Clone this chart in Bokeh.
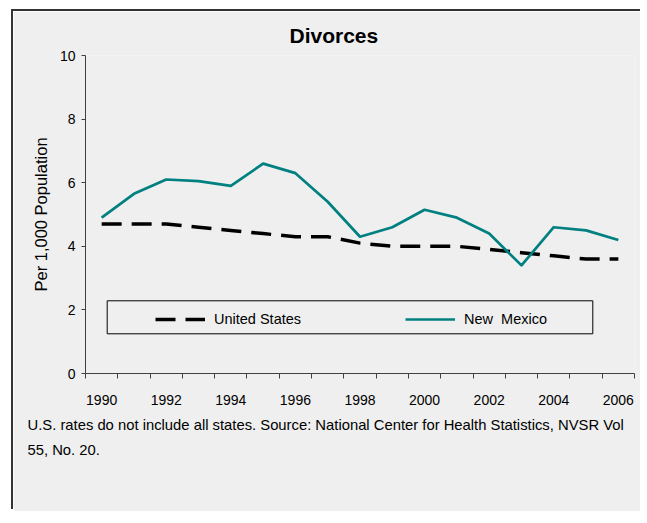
from bokeh.plotting import figure
from bokeh.models import Range1d, FixedTicker, Legend, LegendItem, BoxAnnotation, Title, ColumnDataSource
from bokeh.embed import file_html
from bokeh.resources import INLINE

# ---- data ----
years = [1990, 1991, 1992, 1993, 1994, 1995, 1996, 1997, 1998,
         1999, 2000, 2001, 2002, 2003, 2004, 2005, 2006]
us_rate = [4.7, 4.7, 4.7, 4.6, 4.5, 4.4, 4.3, 4.3, 4.1,
           4.0, 4.0, 4.0, 3.9, 3.8, 3.7, 3.6, 3.6]
nm_rate = [4.9, 5.65, 6.1, 6.05, 5.9, 6.6, 6.3, 5.4, 4.3,
           4.6, 5.15, 4.9, 4.4, 3.4, 4.6, 4.5, 4.2]
year_labels = [1990, 1992, 1994, 1996, 1998, 2000, 2002, 2004, 2006]
y_ticks = [0, 2, 4, 6, 8, 10]
series_names = ["United States", "New  Mexico"]
title_text = "Divorces"
y_title = "Per 1,000 Population"
note_lines = ["U.S. rates do not include all states.  Source: National Center for Health Statistics, NVSR Vol",
              "55, No. 20."]

SANS = "Liberation Sans"
BG = "#efefef"
AX = "#404040"

src = ColumnDataSource(dict(year=years, us=us_rate, nm=nm_rate))

W, H = 632, 500                   # canvas (placed 13px / 11px in from the page corner)
FL, FT, FR = 72, 44, 621          # frame left / top / right inside the canvas
FB = FT + 318                     # frame bottom
p = figure(width=W, height=H, output_backend="svg", toolbar_location=None,
           x_range=Range1d(years[0] - 0.5, years[-1] + 0.5), y_range=Range1d(0, 10),
           min_border_left=FL, min_border_right=W - FR, min_border_top=FT,
           min_border_bottom=H - FB,
           border_fill_color=BG, background_fill_color=BG, outline_line_color=None,
           styles={"margin-left": "13px", "margin-top": "11px",
                   "box-shadow": "-2px -2px 0px 0px #333333",
                   "clip-path": "inset(-4px 5px 0px -4px)"})
p.grid.visible = False

# title
p.title.text = title_text
p.title.align = "left"
p.title.offset = 204
p.title.text_font = SANS
p.title.text_font_size = "21px"
p.title.text_font_style = "bold"
p.title.text_color = "black"
p.title.standoff = 18

# axes
xa = p.xaxis[0]
xa.ticker = FixedTicker(ticks=year_labels,
                        minor_ticks=[y - 0.5 for y in years] + [years[-1] + 0.5])
xa.major_tick_out = 0
xa.major_tick_in = 0
xa.minor_tick_out = 5
xa.minor_tick_in = 0
xa.minor_tick_line_color = AX
xa.axis_line_color = AX
xa.major_label_text_font = SANS
xa.major_label_text_font_size = "14px"
xa.major_label_text_color = "black"
xa.major_label_standoff = 16

ya = p.yaxis[0]
ya.ticker = FixedTicker(ticks=y_ticks)
ya.major_tick_out = 4
ya.major_tick_in = 0
ya.minor_tick_line_color = None
ya.major_tick_line_color = AX
ya.axis_line_color = AX
ya.major_label_text_font = SANS
ya.major_label_text_font_size = "14px"
ya.major_label_text_color = "black"
ya.major_label_standoff = 6
ya.axis_label = y_title
ya.axis_label_text_font = SANS
ya.axis_label_text_font_size = "16.5px"
ya.axis_label_text_font_style = "normal"
ya.axis_label_text_color = "black"
ya.axis_label_standoff = 7

# series
r_us = p.line(x="year", y="us", source=src, line_color="black", line_width=3.5,
              line_dash="20 10")
r_nm = p.line(x="year", y="nm", source=src, line_color="#008080", line_width=2.7,
              line_join="round")

# legend box + legend
p.add_layout(BoxAnnotation(left=21.7, right=507.3, bottom=39.7, top=72.7,
                           left_units="screen", right_units="screen",
                           top_units="screen", bottom_units="screen",
                           fill_color=None, line_color="black", line_alpha=1,
                           line_width=1, level="annotation"))
legend = Legend(items=[LegendItem(label=series_names[0], renderers=[r_us]),
                       LegendItem(label=series_names[1], renderers=[r_nm])],
                orientation="horizontal", location=(70, 46), padding=2, margin=0,
                spacing=101, glyph_width=50, glyph_height=16, label_height=16,
                label_width=90, label_standoff=9, border_line_color=None,
                background_fill_alpha=0, label_text_font=SANS,
                label_text_font_size="14.5px", label_text_color="black")
p.add_layout(legend)

# footnote (two lines, below the axis)
p.add_layout(Title(text="\n".join(note_lines), align="left", offset=-58,
                   vertical_align="top", text_font=SANS, text_font_size="14.8px",
                   text_font_style="normal", text_color="black",
                   text_line_height=1.58, standoff=18), "below")

open("out.html", "w").write(file_html(p, INLINE))
